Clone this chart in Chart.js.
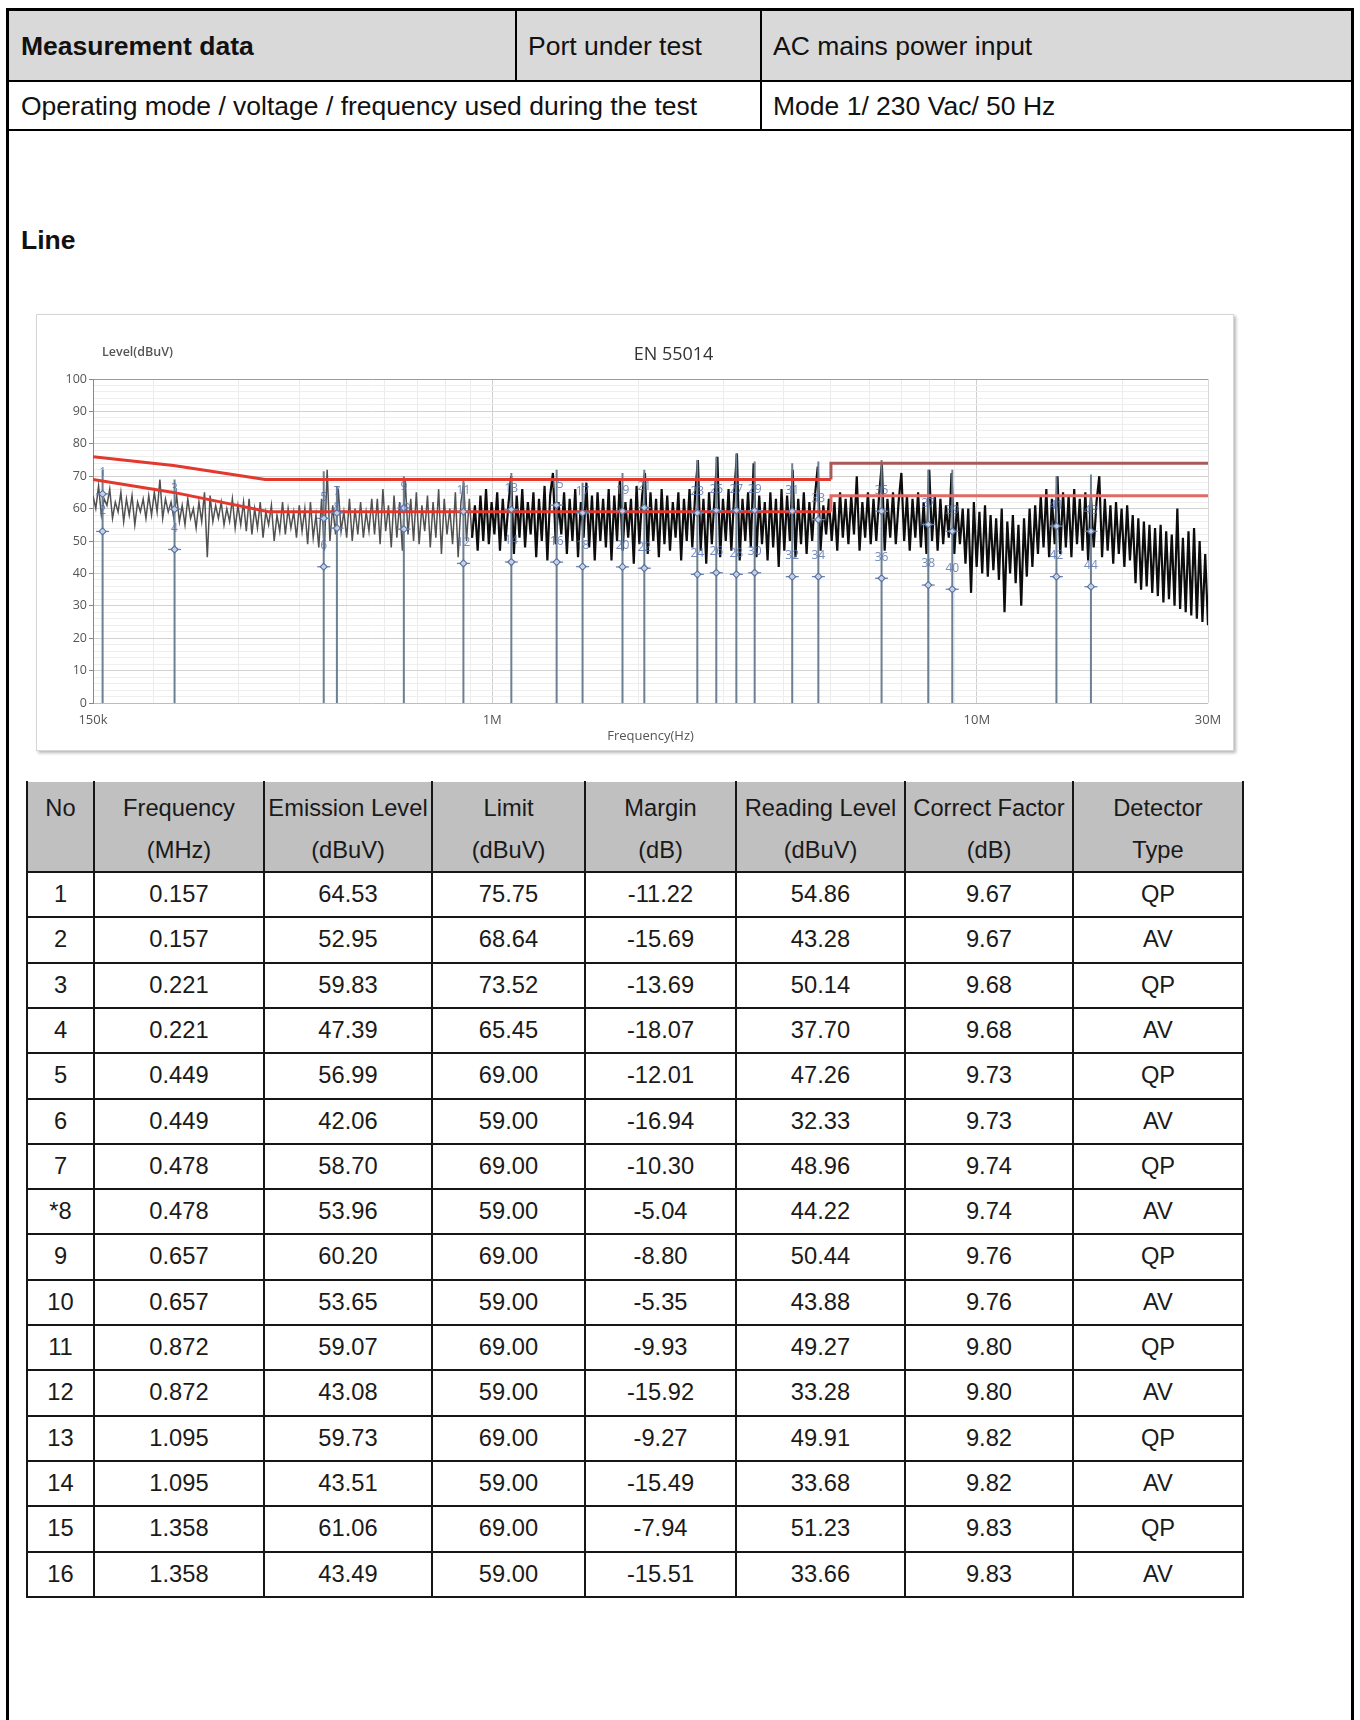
<!DOCTYPE html>
<html>
<head>
<meta charset="utf-8">
<title>Measurement data - Line</title>
<script src="https://cdn.jsdelivr.net/npm/chart.js@4.4.1/dist/chart.umd.min.js"></script>
<style>
  html, body { margin: 0; padding: 0; background: #fff; }
  body { position: relative; width: 1360px; height: 1720px; overflow: hidden;
         font-family: "Liberation Sans", Arial, sans-serif; color: #111; }
  .abs { position: absolute; }
  .frame { left: 6px; top: 8px; width: 1348px; height: 1760px; border: 3px solid #000;
           border-bottom: none; box-sizing: border-box; }
  .hrow1 { left: 9px; top: 11px; width: 1342px; height: 69px; background: #d9d9d9; }
  .hline { left: 9px; width: 1342px; height: 2px; background: #000; }
  .vline { width: 2px; background: #000; }
  .htext { font-size: 26.5px; line-height: 32px; white-space: nowrap; }
  .bold { font-weight: bold; }
  #chartBox { left: 36px; top: 314px; width: 1196px; height: 435px; border: 1px solid #d6d6d6;
              box-shadow: 2px 2px 3px rgba(0, 0, 0, 0.28); background: #fff; }
  .cell { position: absolute; text-align: center; font-size: 23.7px; color: #1a1a1a; white-space: nowrap; }
  .tline { position: absolute; background: #161616; }
</style>
</head>
<body>
<div class="abs frame"></div>
<div class="abs hrow1"></div>
<div class="abs hline" style="top:80px"></div>
<div class="abs hline" style="top:129px"></div>
<div class="abs vline" style="left:515px; top:11px; height:69px"></div>
<div class="abs vline" style="left:760px; top:11px; height:118px"></div>
<div class="abs htext bold" style="left:21px; top:30px">Measurement data</div>
<div class="abs htext" style="left:528px; top:30px">Port under test</div>
<div class="abs htext" style="left:773px; top:30px">AC mains power input</div>
<div class="abs htext" style="left:21px; top:90px">Operating mode / voltage / frequency used during the test</div>
<div class="abs htext" style="left:773px; top:90px">Mode 1/ 230 Vac/ 50 Hz</div>
<div class="abs htext bold" style="left:21px; top:224px">Line</div>

<div id="chartBox" class="abs"><canvas id="emiChart" width="1196" height="435"></canvas></div>
<div id="resultTable"></div>

<script>
const sweepStartMHz = 0.15;
const sweepStopMHz = 30;
const traceLevels = [
  64, 60, 67, 58, 63, 61, 66, 57, 62, 59, 65, 56, 63, 58, 64, 55, 62, 59, 63, 57,
  64, 58, 65, 59, 69, 57, 63, 59, 62, 57, 64, 56, 61, 55, 63, 57, 60, 54, 62, 56,
  65, 45, 64, 56, 61, 57, 62, 55, 60, 56, 63, 54, 61, 55, 62, 53,
  63, 52, 60, 54, 62, 51, 59, 55, 61, 50, 58, 53, 62, 52, 60, 54, 59, 51, 61, 53,
  60, 49, 62, 51, 58, 48, 63, 47, 72, 50, 61, 52, 66, 53, 59, 51, 63, 50, 60, 52, 62, 51, 59, 53, 63,
  52, 63, 49, 66, 53, 61, 48, 64, 51, 62, 47, 69, 52, 63, 50, 65, 49, 61, 53, 64,
  48, 62, 51, 66, 46, 63, 52, 60, 49, 65, 45, 62, 68, 50, 63, 51, 61, 47, 64, 50,
  66, 49, 62, 52, 65, 47, 63, 50, 61, 70, 46, 64, 51, 66, 48, 62, 52, 65, 45, 63,
  50, 67, 44, 64, 71, 49, 62, 52, 65, 46, 63, 50, 66, 45, 62, 51, 68, 48, 64, 44, 65, 50,
  63, 48, 66, 44, 64, 50, 69, 47, 62, 51, 63, 43, 67, 49, 64, 71, 46, 65,
  50, 63, 45, 66, 49, 64, 47, 62, 51, 65, 44, 63, 50, 66, 48, 64, 75, 47, 63, 43,
  65, 49, 64, 76, 45, 63, 50, 66, 47, 64, 77, 44, 63, 50, 65, 48, 74, 45, 64, 49,
  62, 44, 65, 48, 63, 42, 66, 47, 64, 50, 72, 45, 63, 49, 65, 46, 62, 50, 64, 73, 47, 61, 52, 63,
  50, 62, 47, 65, 51, 63, 49, 64, 52, 70, 47, 62, 51, 65, 49, 63, 50, 64, 74,
  47, 63, 51, 65, 49, 62, 71, 50, 64, 47, 63, 51, 65, 48, 62, 46, 72, 50, 64, 47, 63, 49, 61, 51, 71, 46, 62, 49, 60,
  43, 60, 34, 62, 42, 59, 40, 61, 39, 58, 41, 57, 38, 60, 28, 56, 40, 58, 37, 55, 30, 57, 39, 60, 42,
  61, 46, 64, 48, 66, 45, 63, 49, 70, 46, 65, 48, 64, 45, 66, 49, 63, 47, 65, 44, 64, 48, 62, 70, 45, 63, 47, 61, 43, 62, 46, 60, 42, 61, 44,
  58, 37, 57, 35, 56, 36, 55, 34, 54, 33, 55, 31, 53, 32, 52, 30, 60, 29, 51, 28, 53, 27, 54, 26, 50, 25, 46, 24
];

// EN 55014 limit lines
const qpLimitFreq = [0.15, 0.22, 0.34, 5, 5, 30];
const qpLimitLevel = [76, 73.3, 69, 69, 74, 74];
const avLimitFreq = [0.15, 0.22, 0.345, 5, 5, 30];
const avLimitLevel = [69, 65, 59, 59, 64, 64];

// result table (markers 1..16)
const tableNo = ["1", "2", "3", "4", "5", "6", "7", "*8", "9", "10", "11", "12", "13", "14", "15", "16"];
const tableFreq = [0.157, 0.157, 0.221, 0.221, 0.449, 0.449, 0.478, 0.478, 0.657, 0.657, 0.872, 0.872, 1.095, 1.095, 1.358, 1.358];
const tableLevel = [64.53, 52.95, 59.83, 47.39, 56.99, 42.06, 58.70, 53.96, 60.20, 53.65, 59.07, 43.08, 59.73, 43.51, 61.06, 43.49];
const tableLimit = [75.75, 68.64, 73.52, 65.45, 69.00, 59.00, 69.00, 59.00, 69.00, 59.00, 69.00, 59.00, 69.00, 59.00, 69.00, 59.00];
const tableMargin = [-11.22, -15.69, -13.69, -18.07, -12.01, -16.94, -10.30, -5.04, -8.80, -5.35, -9.93, -15.92, -9.27, -15.49, -7.94, -15.51];
const tableReading = [54.86, 43.28, 50.14, 37.70, 47.26, 32.33, 48.96, 44.22, 50.44, 43.88, 49.27, 33.28, 49.91, 33.68, 51.23, 33.66];
const tableFactor = [9.67, 9.67, 9.68, 9.68, 9.73, 9.73, 9.74, 9.74, 9.76, 9.76, 9.80, 9.80, 9.82, 9.82, 9.83, 9.83];
const tableDetector = ["QP", "AV", "QP", "AV", "QP", "AV", "QP", "AV", "QP", "AV", "QP", "AV", "QP", "AV", "QP", "AV"];

// all marker frequencies on the plot; markers beyond the table are estimated from the picture
const markerFreq = [0.157, 0.221, 0.449, 0.478, 0.657, 0.872, 1.095, 1.358, 1.536, 1.857, 2.06,
                    2.65, 2.90, 3.19, 3.48, 4.16, 4.71, 6.36, 7.94, 8.90, 14.6, 17.2];
const extraQP = [58.7, 59.2, 60.3, 58.7, 59.4, 59.4, 59.4, 59.2, 56.6, 59.2, 55.1, 53.0, 54.6, 53.0];
const extraAV = [42.1, 42.0, 41.6, 39.7, 40.2, 39.7, 40.2, 39.0, 39.0, 38.5, 36.4, 35.1, 39.0, 35.9];
const markerPeak = [72, 69, 71.5, 67, 70, 69, 71, 72, 68, 71, 72, 75, 76, 77, 74.5, 74, 74.5, 75, 72, 72, 70, 70.5];

const xGridValues = [0.15, 0.2, 0.3, 0.4, 0.5, 0.6, 0.7, 0.8, 0.9, 1, 2, 3, 4, 5, 6, 7, 8, 9, 10, 20, 30];
const xTickLabels = { 0.15: "150k", 1: "1M", 10: "10M", 30: "30M" };

const markerQP = tableLevel.filter((_, i) => i % 2 === 0).concat(extraQP);
const markerAV = tableLevel.filter((_, i) => i % 2 === 1).concat(extraAV);

function buildTable() {
  const host = document.getElementById("resultTable");
  const colX = [27, 94, 264, 432, 585, 736, 905, 1073, 1243];
  const headTop = 782;
  const headBottom = 872;
  const rowH = 45.3;
  const tableBottom = headBottom + rowH * tableNo.length;
  const heads = [["No", ""], ["Frequency", "(MHz)"], ["Emission Level", "(dBuV)"], ["Limit", "(dBuV)"],
                 ["Margin", "(dB)"], ["Reading Level", "(dBuV)"], ["Correct Factor", "(dB)"], ["Detector", "Type"]];

  const add = (cls, style, html) => {
    const el = document.createElement("div");
    el.className = cls;
    Object.assign(el.style, style);
    if (html !== undefined) el.innerHTML = html;
    host.appendChild(el);
  };

  add("abs", { left: colX[0] + "px", top: headTop + "px", width: (colX[8] - colX[0]) + "px",
               height: (headBottom - headTop) + "px", background: "#c0c0c0" });

  heads.forEach((h, c) => {
    add("cell", { left: colX[c] + "px", top: (headTop + 5) + "px", width: (colX[c + 1] - colX[c]) + "px",
                  lineHeight: "42px" }, h[0] + "<br>" + h[1]);
  });

  const rows = tableNo.map((no, r) => [
    no, tableFreq[r].toFixed(3), tableLevel[r].toFixed(2), tableLimit[r].toFixed(2),
    tableMargin[r].toFixed(2), tableReading[r].toFixed(2), tableFactor[r].toFixed(2), tableDetector[r]
  ]);
  rows.forEach((row, r) => {
    const top = headBottom + r * rowH;
    row.forEach((txt, c) => {
      add("cell", { left: colX[c] + "px", top: top + "px", width: (colX[c + 1] - colX[c]) + "px",
                    height: rowH + "px", lineHeight: rowH + "px" }, txt);
    });
  });

  colX.forEach((x) => {
    add("tline", { left: (x - 1) + "px", top: (headTop - 1) + "px", width: "2px", height: (tableBottom - headTop + 2) + "px" });
  });
  for (let r = 0; r <= tableNo.length; r++) {
    const y = headBottom + r * rowH;
    add("tline", { left: (colX[0] - 1) + "px", top: (y - 1) + "px", width: (colX[8] - colX[0] + 2) + "px", height: "2px" });
  }
}

const chartText = {
  id: "chartText",
  afterDatasetsDraw(chart) {
    const { ctx, scales: { x, y } } = chart;
    ctx.save();
    ctx.font = '12px "Open Sans", sans-serif';
    ctx.fillStyle = "rgba(80, 110, 175, 0.8)";
    ctx.textAlign = "center";
    ctx.textBaseline = "middle";
    markerFreq.forEach((f, i) => {
      const px = x.getPixelForValue(f);
      ctx.fillText(String(2 * i + 1), px, y.getPixelForValue(markerQP[i]) - 21);
      ctx.fillText(String(2 * i + 2), px, y.getPixelForValue(markerAV[i]) - 21);
    });
    ctx.restore();
  },
  afterDraw(chart) {
    const { ctx, chartArea } = chart;
    ctx.save();
    ctx.fillStyle = "#333";
    ctx.textAlign = "center";
    ctx.textBaseline = "middle";
    ctx.font = '18px "Open Sans", sans-serif';
    ctx.fillText("EN 55014", (chartArea.left + chartArea.right) / 2 + 23, chartArea.top - 24);
    ctx.fillStyle = "#555";
    ctx.textAlign = "left";
    ctx.font = '600 12.5px "Open Sans", sans-serif';
    ctx.fillText("Level(dBuV)", chartArea.left + 9, chartArea.top - 27);
    ctx.restore();
  }
};

function renderChart() {
  const n = traceLevels.length;
  const traceData = traceLevels.map((v, i) => ({
    x: sweepStartMHz * Math.pow(sweepStopMHz / sweepStartMHz, i / (n - 1)),
    y: v
  }));
  const qpLimit = qpLimitFreq.map((f, i) => ({ x: f, y: qpLimitLevel[i] }));
  const avLimit = avLimitFreq.map((f, i) => ({ x: f, y: avLimitLevel[i] }));

  const markerLines = [];
  markerFreq.forEach((f, i) => {
    markerLines.push({ x: f, y: 0 }, { x: f, y: markerPeak[i] }, { x: f, y: null });
  });
  const markerPoints = [];
  markerFreq.forEach((f, i) => {
    markerPoints.push({ x: f, y: markerQP[i] }, { x: f, y: markerAV[i] });
  });

  new Chart(document.getElementById("emiChart"), {
    type: "line",
    data: {
      datasets: [
        {
          data: markerPoints,
          showLine: false,
          pointStyle: "rectRot",
          pointRadius: 3.5,
          pointBorderWidth: 1.2,
          pointBorderColor: "#5873a8",
          pointBackgroundColor: "rgba(255, 255, 255, 0.6)",
          order: 1
        },
        {
          data: markerPoints,
          showLine: false,
          pointStyle: "line",
          pointRadius: 6.5,
          pointBorderWidth: 1.3,
          pointBorderColor: "#6a84b4",
          order: 2
        },
        {
          data: qpLimit,
          borderColor: "#e2382d",
          borderWidth: 3,
          pointRadius: 0,
          segment: { borderColor: (c) => (c.p0.parsed.x >= 5 ? "#a85a58" : "#e2382d") },
          order: 3
        },
        {
          data: avLimit,
          borderColor: "#e2382d",
          borderWidth: 3,
          pointRadius: 0,
          segment: { borderColor: (c) => (c.p0.parsed.x >= 5 ? "#e06a68" : "#e2382d") },
          order: 3
        },
        {
          data: markerLines,
          borderColor: "#6d7f93",
          borderWidth: 2,
          pointRadius: 0,
          spanGaps: false,
          order: 4
        },
        {
          data: traceData,
          borderColor: "#111",
          borderWidth: 2,
          pointRadius: 0,
          tension: 0,
          segment: {
            borderColor: (c) => (c.p0.parsed.x < 0.9 ? "#505050" : "#0c0c0c"),
            borderWidth: (c) => (c.p0.parsed.x < 0.9 ? 1.5 : 2.2)
          },
          order: 5
        }
      ]
    },
    options: {
      responsive: false,
      animation: false,
      events: [],
      layout: { padding: { left: 0, top: 64, right: 25, bottom: 0 } },
      plugins: { legend: { display: false }, tooltip: { enabled: false } },
      scales: {
        x: {
          type: "logarithmic",
          min: sweepStartMHz,
          max: sweepStopMHz,
          afterBuildTicks: (s) => { s.ticks = xGridValues.map((v) => ({ value: v })); },
          afterFit: (s) => { s.height = 47; },
          ticks: {
            autoSkip: false,
            maxRotation: 0,
            padding: 9,
            color: "#555",
            font: { family: "Open Sans", size: 13 },
            callback: (v) => xTickLabels[v] || ""
          },
          grid: {
            drawTicks: false,
            color: (c) => {
              const v = c.tick ? c.tick.value : 0;
              if (v === 0.15) return "#8a8a8a";
              if (v === 1 || v === 10) return "#cfcfcf";
              if (v === 30) return "#d8d8d8";
              return "#ececec";
            }
          },
          border: { display: false },
          title: {
            display: true,
            text: "Frequency(Hz)",
            color: "#555",
            font: { family: "Open Sans", size: 13 },
            padding: { top: 0, bottom: 6 }
          }
        },
        y: {
          min: 0,
          max: 100,
          afterFit: (s) => { s.width = 56; },
          ticks: {
            stepSize: 2,
            autoSkip: false,
            padding: 2,
            color: "#555",
            font: { family: "Open Sans", size: 12.5 },
            callback: (v) => (v % 10 === 0 ? v : "")
          },
          grid: {
            tickLength: 4,
            color: (c) => {
              const v = c.tick ? c.tick.value : 0;
              if (v === 100) return "#9a9a9a";
              if (v === 0) return "#bdbdbd";
              return v % 10 === 0 ? "#d2d2d2" : "#eeeeee";
            },
            tickColor: (c) => (c.tick && c.tick.value % 10 === 0 ? "#888" : "rgba(0,0,0,0)")
          },
          border: { color: "#8a8a8a" }
        }
      }
    },
    plugins: [chartText]
  });
}

window.addEventListener("DOMContentLoaded", () => {
  buildTable();
  renderChart();
});
</script>
</body>
</html>
